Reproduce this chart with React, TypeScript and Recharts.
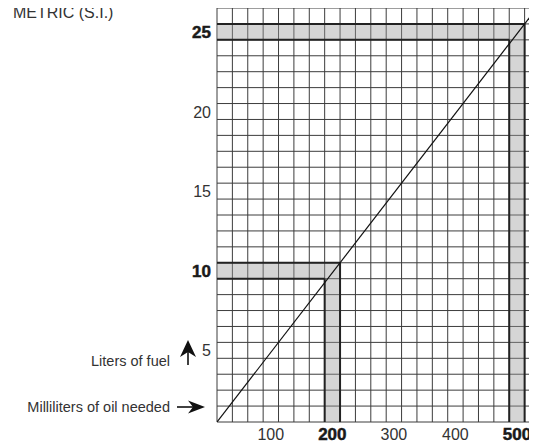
import React from "react";
import {
  ComposedChart,
  Line,
  XAxis,
  YAxis,
  CartesianGrid,
  ReferenceArea,
  ReferenceLine,
} from "recharts";

// oil (ml) vs fuel (liters), 1:50 mix
const oilMl = [0, 520];
const fuelLiters = [0, 26];

// grid steps: 25 ml per column, 1 liter per row
const gridMl = [
  0, 25, 50, 75, 100, 125, 150, 175, 200, 225, 250, 275, 300, 325, 350, 375,
  400, 425, 450, 475, 500, 525,
];
const gridLiters = [
  0, 1, 2, 3, 4, 5, 6, 7, 8, 9, 10, 11, 12, 13, 14, 15, 16, 17, 18, 19, 20,
  21, 22, 23, 24, 25, 26,
];

const mlLabels = [100, 200, 300, 400, 500];
const literLabels = [5, 10, 15, 20, 25];

// worked examples shown as gray bands
const exampleMl = [200, 500];
const exampleLiters = [10, 25];

// drawn in page pixels: the wrapper is shifted back over the body margin
const PAGE_W = 537;
const PAGE_H = 444;
const CHART_W = 540;
const Y_AXIS_W = 217;
const X_AXIS_H = 22;
const TOP = 8;
const PLOT_W = CHART_W - Y_AXIS_W;
const PLOT_H = PAGE_H - X_AXIS_H - TOP;
const HALF_COL = (12.5 * PLOT_W) / 525;
const HALF_ROW = (0.5 * PLOT_H) / 26;

const FONT = "'Liberation Sans', Arial, Helvetica, sans-serif";

const XTick = (props: any) => {
  const { x, y, payload } = props;
  const v = payload.value;
  if (!mlLabels.includes(v)) return null;
  const bold = exampleMl.includes(v);
  return (
    <text
      x={x - HALF_COL}
      y={y + 16}
      textAnchor="middle"
      fontFamily={FONT}
      fontSize={bold ? 17 : 16}
      fontWeight={bold ? 900 : 400}
      fill={bold ? "#1a1a1a" : "#333"}
      stroke={bold ? "#1a1a1a" : "none"}
      strokeWidth={bold ? 0.5 : 0}
    >
      {v}
    </text>
  );
};

const YTick = (props: any) => {
  const { x, y, payload } = props;
  const v = payload.value;
  if (!literLabels.includes(v)) return null;
  const bold = exampleLiters.includes(v);
  return (
    <text
      x={x}
      y={y + HALF_ROW + 6}
      textAnchor="end"
      fontFamily={FONT}
      fontSize={bold ? 17 : 16}
      fontWeight={bold ? 900 : 400}
      fill={bold ? "#1a1a1a" : "#333"}
      stroke={bold ? "#1a1a1a" : "none"}
      strokeWidth={bold ? 0.5 : 0}
    >
      {v}
    </text>
  );
};

export default function App() {
  const data = oilMl.map((ml, i) => ({ ml, liters: fuelLiters[i] }));

  return (
    <div
      style={{
        position: "relative",
        top: -8,
        left: -8,
        width: PAGE_W,
        height: PAGE_H,
        overflow: "hidden",
      }}
    >
      <ComposedChart
        width={CHART_W}
        height={PAGE_H}
        data={data}
        margin={{ top: TOP, right: 0, bottom: 0, left: 0 }}
      >
        <CartesianGrid stroke="#3c3c3c" strokeWidth={1} />
        {exampleMl.map((ml, i) => (
          <ReferenceArea
            key={"h" + ml}
            x1={0}
            x2={ml}
            y1={exampleLiters[i] - 1}
            y2={exampleLiters[i]}
            fill="#9a9a9a"
            fillOpacity={0.42}
            stroke="none"
            ifOverflow="visible"
          />
        ))}
        {exampleMl.map((ml, i) => (
          <ReferenceArea
            key={"v" + ml}
            x1={ml - 25}
            x2={ml}
            y1={0}
            y2={exampleLiters[i] - 1}
            fill="#9a9a9a"
            fillOpacity={0.42}
            stroke="none"
            ifOverflow="visible"
          />
        ))}
        <XAxis
          dataKey="ml"
          type="number"
          domain={[0, 525]}
          ticks={gridMl}
          interval={0}
          tickSize={0}
          tickLine={false}
          axisLine={false}
          height={X_AXIS_H}
          tick={<XTick />}
          allowDataOverflow
        />
        <YAxis
          type="number"
          domain={[0, 26]}
          ticks={gridLiters}
          interval={0}
          tickSize={0}
          tickMargin={6}
          tickLine={false}
          axisLine={false}
          width={Y_AXIS_W}
          tick={<YTick />}
          allowDataOverflow
        />
        {exampleMl.map((ml, i) => (
          <ReferenceLine
            key={"t" + ml}
            segment={[
              { x: 0, y: exampleLiters[i] },
              { x: ml, y: exampleLiters[i] },
            ]}
            stroke="#222"
            strokeWidth={2}
            ifOverflow="visible"
          />
        ))}
        {exampleMl.map((ml, i) => (
          <ReferenceLine
            key={"b" + ml}
            segment={[
              { x: 0, y: exampleLiters[i] - 1 },
              { x: ml - 25, y: exampleLiters[i] - 1 },
            ]}
            stroke="#222"
            strokeWidth={2}
            ifOverflow="visible"
          />
        ))}
        {exampleMl.map((ml, i) => (
          <ReferenceLine
            key={"l" + ml}
            segment={[
              { x: ml - 25, y: 0 },
              { x: ml - 25, y: exampleLiters[i] - 1 },
            ]}
            stroke="#222"
            strokeWidth={2}
            ifOverflow="visible"
          />
        ))}
        {exampleMl.map((ml, i) => (
          <ReferenceLine
            key={"r" + ml}
            segment={[
              { x: ml, y: 0 },
              { x: ml, y: exampleLiters[i] },
            ]}
            stroke="#222"
            strokeWidth={2}
            ifOverflow="visible"
          />
        ))}
        <Line
          type="linear"
          dataKey="liters"
          stroke="#111"
          strokeWidth={1.2}
          dot={false}
          activeDot={false}
          isAnimationActive={false}
        />
      </ComposedChart>

      {/* captions and arrows */}
      <svg
        width={PAGE_W}
        height={PAGE_H}
        style={{ position: "absolute", left: 0, top: 0, pointerEvents: "none" }}
      >
        <text x={13} y={18} fontFamily={FONT} fontSize={16} fill="#333">
          METRIC (S.I.)
        </text>
        <text x={170} y={366} textAnchor="end" fontFamily={FONT} fontSize={14.5} fill="#333">
          Liters of fuel
        </text>
        <text x={170} y={412} textAnchor="end" fontFamily={FONT} fontSize={14.5} fill="#333">
          Milliliters of oil needed
        </text>
        <line x1={188} y1={352} x2={188} y2={365} stroke="#111" strokeWidth={1.6} />
        <polygon points="188,340 196,357 188,352 180,357" fill="#111" />
        <line x1={177} y1={407} x2={193} y2={407} stroke="#111" strokeWidth={1.6} />
        <polygon points="205,407 188,400.5 193,407 188,413.5" fill="#111" />
      </svg>
    </div>
  );
}
